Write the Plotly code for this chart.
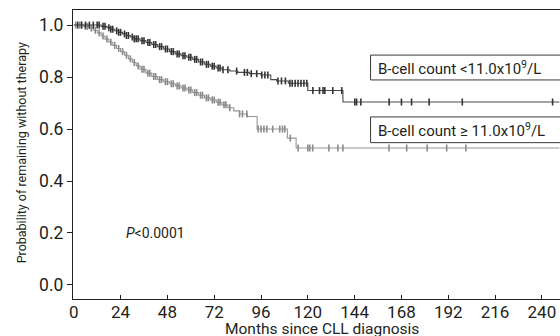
import numpy as np
import plotly.graph_objects as go

# ---- data ----
low_times = [0, 14, 17, 19, 21, 23, 25, 27, 29, 31, 34, 37, 40, 43, 46, 49, 52, 55, 58, 61, 64, 67,
             70, 73, 76, 80, 84, 90, 96, 101, 104, 110, 120, 138, 249]
low_surv = [1.0, 0.995, 0.99, 0.984, 0.978, 0.972, 0.966, 0.96, 0.954, 0.947, 0.94, 0.933, 0.925,
            0.917, 0.908, 0.898, 0.889, 0.882, 0.876, 0.868, 0.858, 0.849, 0.842, 0.835, 0.828,
            0.823, 0.818, 0.813, 0.808, 0.79, 0.785, 0.776, 0.748, 0.704, 0.704]
low_censor = [2, 4, 6, 8, 10, 12, 13, 15, 16, 18, 19, 20, 22, 23, 24, 26, 27, 28, 30, 31, 32, 33,
              35, 36, 38, 39, 41, 42, 44, 45, 47, 48, 50, 51, 53, 54, 56, 57, 59, 60, 62, 63, 65,
              66, 68, 69, 71, 72, 74, 75, 76.5, 79, 83.5, 87.5, 89, 91, 93.8, 96.4, 98, 99.5,
              104.7, 106.5, 108.5, 110.8, 112, 113.5, 115, 116.5, 118, 119.5,
              122.6, 126, 127.8, 128.7, 132.8, 137.4,
              144.1, 145, 147.2, 161.7, 168, 173.2, 182.2, 199.2, 245.5]

high_times = [0, 5, 8, 10, 12, 14, 16, 18, 20, 22, 24, 26, 28, 30, 32, 34, 37, 40, 43, 46, 49, 52,
              55, 58, 61, 64, 67, 70, 73, 76, 79, 82, 85, 89, 94, 109.5, 114, 249]
high_surv = [1.0, 0.995, 0.988, 0.98, 0.97, 0.958, 0.946, 0.934, 0.922, 0.91, 0.898, 0.884, 0.87,
             0.856, 0.843, 0.83, 0.815, 0.802, 0.79, 0.782, 0.774, 0.766, 0.758, 0.75, 0.74, 0.73,
             0.72, 0.712, 0.703, 0.693, 0.682, 0.67, 0.658, 0.648, 0.6, 0.565, 0.527, 0.527]
high_censor = [1, 3, 4, 6, 7, 9, 11, 13, 15, 17, 19, 21, 23, 25, 27, 29, 31, 33, 35, 36, 38, 39,
               41, 42, 44, 45, 47, 48, 50, 51, 53, 54, 56, 57, 59, 60, 62, 63, 65, 66, 68, 69, 71,
               72, 74, 75, 77, 78, 80, 85, 86.5, 88.7, 94.5, 96, 97.5, 99, 102, 105.6, 107, 108.2,
               111, 115, 120, 121, 122.5, 130.8, 135.4, 138, 161.6, 170.7, 181.2, 191.2, 201]

x_ticks = [0, 24, 48, 72, 96, 120, 144, 168, 192, 216, 240]
y_ticks = [0.0, 0.2, 0.4, 0.6, 0.8, 1.0]

label_low = "B-cell count <11.0x10<sup>9</sup>/L"
label_high = "B-cell count \u2265 11.0x10<sup>9</sup>/L"
x_title = "Months since CLL diagnosis"
y_title = "Probability of remaining without therapy"

FONT = "Roboto, Liberation Sans, sans-serif"
INK = "#231f20"
DARK = "#333333"
GRAY = "#8a8a8a"


def surv_at(times, surv, t):
    idx = np.searchsorted(np.array(times), np.array(t), side="right") - 1
    return np.array(surv)[idx]


fig = go.Figure()
for times, surv, cens, col, lcol in [(high_times, high_surv, high_censor, GRAY, "#959595"),
                                     (low_times, low_surv, low_censor, DARK, "#4a4a4a")]:
    fig.add_trace(go.Scatter(x=times, y=surv, mode="lines", line=dict(shape="hv", color=lcol, width=1.1),
                             showlegend=False, hoverinfo="skip"))
    fig.add_trace(go.Scatter(x=cens, y=surv_at(times, surv, cens), mode="markers",
                             marker=dict(symbol="line-ns", size=5, line=dict(color=col, width=1.6)),
                             showlegend=False, hoverinfo="skip"))

axis_font = dict(family=FONT, size=17, color=INK)
fig.update_layout(
    width=560, height=336,
    margin=dict(l=73, r=0, t=10, b=37),
    plot_bgcolor="white", paper_bgcolor="white",
    font=dict(family=FONT, color=INK),
    xaxis=dict(range=[-0.4, 249.3], tickvals=x_ticks, ticktext=[str(v) for v in x_ticks],
               ticks="inside", ticklen=4, tickcolor=INK, showline=True, linecolor=INK,
               linewidth=1.2, mirror=True, showgrid=False, zeroline=False, tickfont=axis_font,
               ticklabelstandoff=-3),
    yaxis=dict(range=[-0.054, 1.058], tickvals=y_ticks, ticktext=[f"{v:.1f}" for v in y_ticks],
               ticks="outside", ticklen=5, tickcolor=INK, showline=True, linecolor=INK,
               linewidth=1.2, showgrid=False, zeroline=False, tickfont=dict(family=FONT, size=17.5, color=INK)),
)

# axis titles
fig.add_annotation(xref="paper", yref="paper", x=0.512, y=-0.105, xanchor="center", yanchor="middle",
                   text=x_title, showarrow=False, font=dict(family=FONT, size=15.5, color=INK))
fig.add_annotation(xref="paper", yref="paper", x=-0.105, y=0.507, xanchor="center", yanchor="middle",
                   text=y_title, textangle=-90, showarrow=False, font=dict(family=FONT, size=12.5, color=INK))

# label boxes
for y0, y1, txt in [(0.758, 0.844, label_low), (0.541, 0.630, label_high)]:
    fig.add_shape(type="rect", xref="paper", yref="paper", x0=0.611, x1=1.02, y0=y0, y1=y1,
                  line=dict(color="#3a3a3a", width=1), fillcolor="white", layer="above")
    fig.add_annotation(xref="paper", yref="paper", x=0.622, y=(y0 + y1) / 2, xanchor="left",
                       yanchor="middle", text=txt, showarrow=False,
                       font=dict(family=FONT, size=15, color=INK))

fig.add_annotation(x=26, y=0.2, xanchor="left", yanchor="middle", text="<i>P</i><0.0001",
                   showarrow=False, font=dict(family=FONT, size=14, color=INK))

fig.write_html("out.html")
